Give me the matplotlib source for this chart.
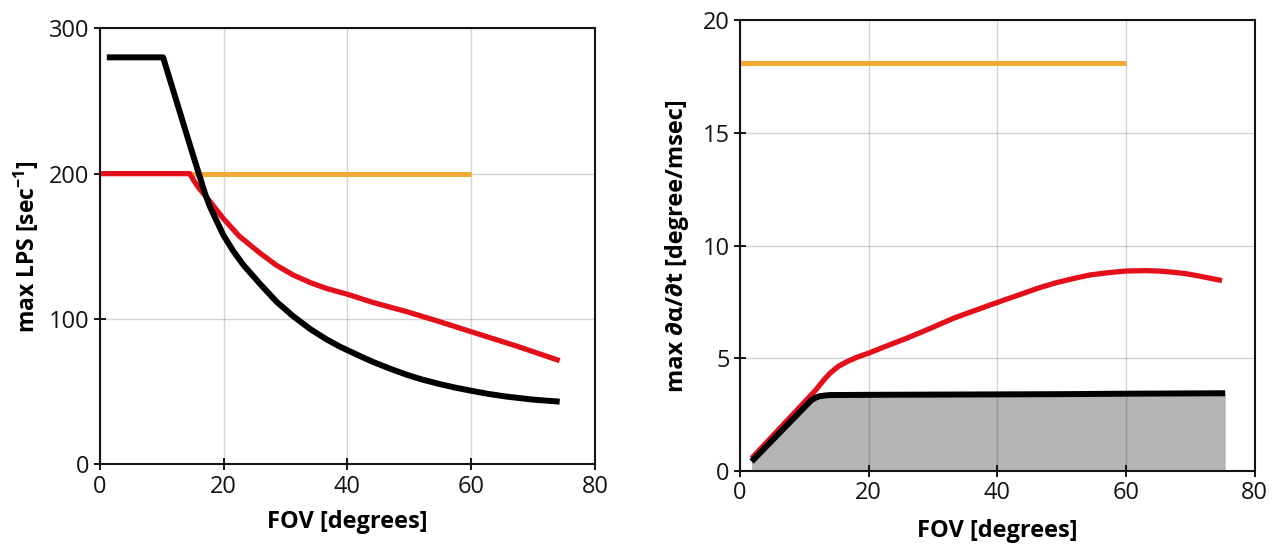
import matplotlib
matplotlib.use("Agg")
import matplotlib.pyplot as plt

plt.rcParams['font.family'] = ['Open Sans', 'DejaVu Sans']
plt.rcParams['mathtext.fontset'] = 'custom'
plt.rcParams['mathtext.rm'] = 'Open Sans'
plt.rcParams['mathtext.bf'] = 'Open Sans:bold'

# ---- left panel: max LPS vs FOV ----
lps_black_fov = [1.1, 10.2, 14.8, 17.0, 17.8, 19.9, 21.5, 23.2, 25.9, 28.5, 31.2, 34.0, 36.6,
                 38.8, 42.0, 44.2, 47.0, 49.6, 52.0, 54.9, 57.5, 60.0, 62.8, 65.7, 70.0, 74.3]
lps_black = [280, 280, 216, 186, 177, 158, 147, 137, 124, 112, 102, 93, 86,
             80.9, 74.5, 70.3, 65.6, 61.6, 58.4, 55.2, 52.7, 50.6, 48.4, 46.6, 44.5, 43.1]

lps_red_fov = [0, 14.5, 15.2, 16.0, 17.8, 19.9, 22.5, 25.9, 28.5, 31.2, 34.0, 36.6, 40.0,
               44.0, 49.6, 55.0, 60.0, 67.3, 74.3]
lps_red = [200, 200, 195, 190, 180.7, 169.3, 157, 145.2, 137, 130.3, 125, 121, 117,
           111.5, 105, 98, 91.2, 81.4, 71.3]

lps_orange_fov = [14.8, 60]
lps_orange = [200, 200]

# ---- right panel: max angular rate vs FOV ----
rate_black_fov = [1.8, 11.1, 11.8, 12.4, 13.2, 14.0, 20, 30, 40.4, 50, 60, 75.4]
rate_black = [0.42, 3.15, 3.26, 3.32, 3.35, 3.37, 3.38, 3.39, 3.40, 3.41, 3.43, 3.45]

rate_red_fov = [1.8, 11.8, 12.4, 13.2, 14.0, 15.2, 16.6, 18.2, 19.9, 22.8, 25.9, 29.5, 33.2,
                36.0, 38.9, 41.5, 44.0, 46.5, 49.2, 51.8, 54.4, 57.2, 60.0, 63.2, 65.3, 67.3,
                69.2, 71.0, 74.9]
rate_red = [0.56, 3.6, 3.82, 4.1, 4.34, 4.63, 4.85, 5.05, 5.22, 5.55, 5.89, 6.32, 6.78,
            7.07, 7.37, 7.63, 7.88, 8.13, 8.36, 8.54, 8.70, 8.80, 8.875, 8.89, 8.87, 8.82,
            8.76, 8.67, 8.45]

rate_orange_fov = [0, 60]
rate_orange = [18.1, 18.1]

BLACK = '#000000'
RED = '#e3101b'
ORANGE = '#f0ab35'
FILL = '#b4b4b4'
INK = '#141414'

fig = plt.figure(figsize=(12.77, 5.44), dpi=100)
ax1 = fig.add_axes([0.0783, 0.1465, 0.3876, 0.8015])
ax2 = fig.add_axes([0.5795, 0.1342, 0.4031, 0.8285])


def style(ax):
    ax.set_axisbelow(True)
    ax.grid(True, color='black', alpha=0.17, linewidth=1.0)
    for s in ax.spines.values():
        s.set_linewidth(1.5)
        s.set_color(INK)
    ax.tick_params(direction='inout', length=9, width=1.4, labelsize=17,
                   colors=INK, pad=3)
    ax.set_xlim(0, 80)
    ax.set_xticks([0, 20, 40, 60, 80])


line_kw = dict(solid_capstyle='butt', solid_joinstyle='round')

style(ax1)
ax1.set_ylim(0, 300)
ax1.set_yticks([0, 100, 200, 300])
ax1.plot(lps_orange_fov, lps_orange, color=ORANGE, lw=3.6, **line_kw)
ax1.plot(lps_red_fov, lps_red, color=RED, lw=3.8, **line_kw)
ax1.plot(lps_black_fov, lps_black, color=BLACK, lw=4.3, **line_kw)
ax1.set_xlabel('FOV [degrees]', fontsize=17, fontweight='bold', labelpad=8)
ax1.set_ylabel(r'max LPS [sec$^{\mathbf{-1}}$]', fontsize=16.5, fontweight='bold', labelpad=6)

style(ax2)
ax2.set_ylim(0, 20)
ax2.set_yticks([0, 5, 10, 15, 20])
ax2.fill_between(rate_black_fov, 0, rate_black, color=FILL, lw=0, zorder=0.3)
ax2.plot(rate_orange_fov, rate_orange, color=ORANGE, lw=3.6, **line_kw)
ax2.plot(rate_red_fov, rate_red, color=RED, lw=3.8, **line_kw)
ax2.plot(rate_black_fov, rate_black, color=BLACK, lw=4.3, **line_kw)
ax2.set_xlabel('FOV [degrees]', fontsize=17, fontweight='bold', labelpad=10)
ax2.set_ylabel('max ∂α/∂t [degree/msec]', fontsize=17, fontweight='bold', labelpad=10)

fig.savefig('out.png', dpi=100)
